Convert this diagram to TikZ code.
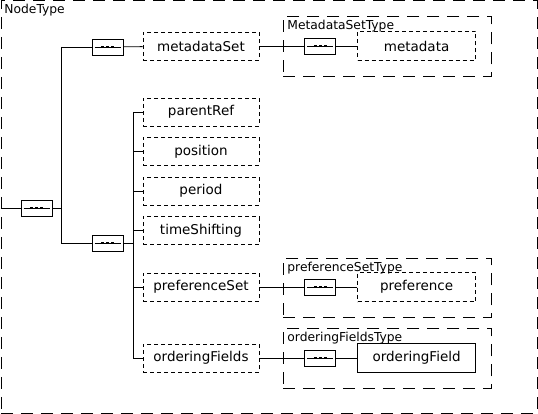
\documentclass[tikz,border=0pt]{standalone}
\usepackage{fontspec}
\setmainfont{DejaVu Sans}
\usetikzlibrary{shapes,arrows,positioning,calc}

\begin{document}
\begin{tikzpicture}[x=1pt,y=-1pt,line width=0.8pt,
  elem/.style={rectangle,draw,dash pattern=on 4pt off 3pt,minimum width=116pt,minimum height=28pt,inner sep=0pt,font=\fontsize{13.5}{16}\selectfont},
  seqbox/.style={rectangle,draw,minimum width=31pt,minimum height=16pt,inner sep=0pt,
    path picture={
      \draw ([xshift=2.5pt]path picture bounding box.west) -- ([xshift=-2.5pt]path picture bounding box.east);
      \foreach \dx in {-4.8,0,4.8}
        \fill ([xshift=\dx pt]path picture bounding box.center) +(-1.4pt,-1.4pt) rectangle +(1.4pt,1.4pt);
    }},
  cont/.style={rectangle,draw,dash pattern=on 12pt off 8pt,anchor=north west,inner sep=0pt},
  lbl/.style={anchor=north west,inner sep=0pt,font=\fontsize{12.3}{14}\selectfont}]

  \useasboundingbox (0,0) rectangle (538,414);

  \node[cont,minimum width=536pt,minimum height=412pt] (nodeType) at (0.5,0.5) {};
  \node[lbl] (nodeTypeLbl) at (4,4) {NodeType};

  \node[seqbox] (seqMain) at (36.5,208) {};
  \node[seqbox] (seqMeta) at (107.5,47) {};
  \node[seqbox] (seqBody) at (107.5,243) {};
  \coordinate (fork) at (61,208);
  \coordinate (trunk) at (133,243);

  \node[elem] (metadataSet) at (201,46) {metadataSet};

  \node[elem] (parentRef) at (201,112) {parentRef};
  \node[elem,node distance=39.5pt,below of=parentRef] (position) {position};
  \node[elem,node distance=39.5pt,below of=position] (period) {period};
  \node[elem,node distance=39.5pt,below of=period] (timeShifting) {timeShifting};
  \node[elem,node distance=56.5pt,below of=timeShifting] (preferenceSet) {preferenceSet};
  \node[elem,node distance=71pt,below of=preferenceSet] (orderingFields) {orderingFields};

  \node[cont,minimum width=208pt,minimum height=60pt] (metaType) at (283,16) {};
  \node[lbl] (metaTypeLbl) at (287,20) {MetadataSetType};
  \node[seqbox,right=45pt of metadataSet] (metaSeq) {};
  \node[elem,minimum width=118pt,minimum height=29pt,right=21pt of metaSeq] (metadata) {metadata};

  \node[cont,minimum width=208pt,minimum height=59pt] (prefType) at (283,258) {};
  \node[lbl] (prefTypeLbl) at (287,262) {preferenceSetType};
  \node[seqbox,right=45pt of preferenceSet] (prefSeq) {};
  \node[elem,minimum width=118pt,minimum height=29pt,right=21pt of prefSeq] (preference) {preference};

  \node[cont,minimum width=208pt,minimum height=60pt] (ordType) at (283,328) {};
  \node[lbl] (ordTypeLbl) at (287,332) {orderingFieldsType};
  \node[seqbox,right=45pt of orderingFields] (ordSeq) {};
  \node[rectangle,draw,minimum width=118pt,minimum height=29pt,inner sep=0pt,font=\fontsize{13.5}{16}\selectfont,right=21pt of ordSeq] (orderingField) {orderingField};

  \draw (nodeType.west |- seqMain) -- (seqMain);
  \draw (seqMain.east) -- (fork);
  \draw (fork |- seqMeta) -- (fork |- seqBody);
  \draw (fork |- seqMeta) -- (seqMeta.west);
  \draw (fork |- seqBody) -- (seqBody.west);
  \draw (seqMeta) -- (metadataSet);
  \draw (metadataSet) -- (metaSeq) -- (metadata);

  \draw (seqBody.east) -- (trunk);
  \draw (trunk |- parentRef) -- (trunk |- orderingFields);
  \foreach \n in {parentRef,position,period,timeShifting,preferenceSet,orderingFields}
    \draw (trunk |- \n) -- (\n.west);

  \draw (preferenceSet) -- (prefSeq) -- (preference);
  \draw (orderingFields) -- (ordSeq) -- (orderingField);

\end{tikzpicture}
\end{document}
